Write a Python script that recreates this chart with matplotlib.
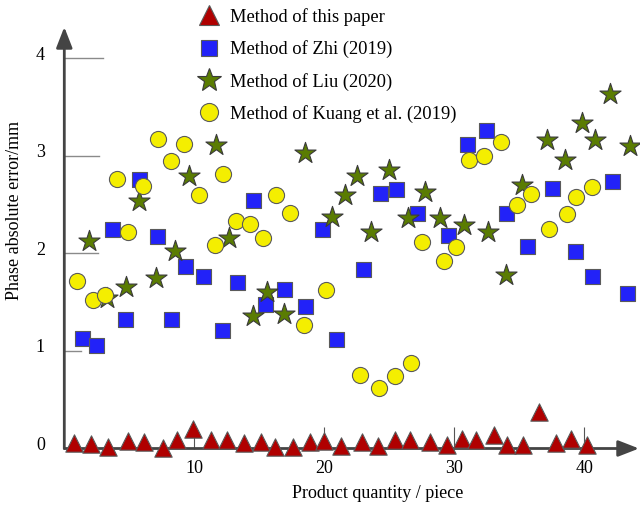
import matplotlib
matplotlib.use("Agg")
import matplotlib.pyplot as plt
from matplotlib.lines import Line2D
from matplotlib.transforms import ScaledTranslation

# ---------------- data ----------------
tri_x = [0.75, 2.05, 3.36, 4.9, 6.13, 7.6, 8.67, 9.9, 11.3, 12.5, 13.8, 15.1, 16.2, 17.6, 18.9, 20.0,
         21.3, 22.9, 24.1, 25.4, 26.6, 28.1, 29.4, 30.6, 31.7, 33.05, 34.05, 35.3, 36.5, 37.8, 39.0, 40.2]
tri_y = [0.06, 0.05, 0.02, 0.08, 0.07, 0.01, 0.09, 0.20, 0.09, 0.09, 0.06, 0.07, 0.02, 0.02, 0.07, 0.08,
         0.03, 0.07, 0.03, 0.09, 0.09, 0.07, 0.04, 0.10, 0.09, 0.14, 0.04, 0.04, 0.37, 0.06, 0.10, 0.04]

sq_x = [1.34, 2.44, 3.64, 4.7, 5.77, 7.15, 8.18, 9.25, 10.65, 12.1, 13.26, 14.5, 15.44, 16.9, 18.5, 19.8,
        20.9, 23.0, 24.3, 25.5, 27.1, 29.5, 30.95, 32.4, 34.0, 35.6, 37.5, 39.3, 40.6, 42.1, 43.26]
sq_y = [1.13, 1.06, 2.25, 1.33, 2.76, 2.18, 1.33, 1.87, 1.77, 1.22, 1.71, 2.55, 1.48, 1.64, 1.46, 2.25,
        1.12, 1.84, 2.62, 2.66, 2.42, 2.19, 3.12, 3.27, 2.42, 2.08, 2.67, 2.03, 1.77, 2.74, 1.60]

star_x = [1.92, 3.26, 4.75, 5.77, 7.05, 8.5, 9.6, 11.65, 12.67, 14.54, 15.57, 16.9, 18.5, 20.6, 21.6, 22.5,
          23.57, 25.0, 26.46, 27.75, 28.9, 30.77, 32.57, 34.0, 35.2, 37.1, 38.5, 39.85, 40.8, 42.0, 43.5]
star_y = [2.13, 1.54, 1.66, 2.54, 1.75, 2.03, 2.79, 3.11, 2.16, 1.36, 1.61, 1.38, 3.03, 2.37, 2.60, 2.79,
          2.22, 2.86, 2.36, 2.63, 2.36, 2.29, 2.22, 1.78, 2.70, 3.16, 2.96, 3.34, 3.16, 3.64, 3.10]

circ_x = [0.95, 2.18, 3.13, 4.03, 4.87, 6.08, 7.23, 8.18, 9.2, 10.36, 11.6, 12.23, 13.18, 14.28, 15.26,
          16.26, 17.36, 18.44, 20.13, 22.75, 24.2, 25.46, 26.7, 27.5, 29.2, 30.1, 31.15, 32.3, 33.57,
          34.8, 35.9, 37.3, 38.7, 39.4, 40.57]
circ_y = [1.72, 1.52, 1.57, 2.76, 2.22, 2.69, 3.17, 2.95, 3.12, 2.60, 2.09, 2.82, 2.33, 2.30, 2.16,
          2.60, 2.42, 1.27, 1.63, 0.75, 0.62, 0.74, 0.88, 2.12, 1.92, 2.07, 2.96, 3.00, 3.14,
          2.50, 2.61, 2.25, 2.41, 2.58, 2.68]

labels = ["Method of this paper", "Method of Zhi (2019)", "Method of Liu (2020)",
          "Method of Kuang et al. (2019)"]
y_ticks = [0, 1, 2, 3, 4]
x_ticks = [10, 20, 30, 40]
x_label = "Product quantity / piece"
y_label = "Phase absolute error/mm"

# ---------------- style ----------------
plt.rcParams['font.family'] = ['Liberation Serif', 'DejaVu Serif']
FS = 13
c_red, c_blue, c_green, c_yel = '#B00000', '#2222F8', '#5A7C02', '#F4EE00'
edge = '#5a5a5a'

fig = plt.figure(figsize=(6.4, 5.07), dpi=100)
W, H = 640, 507
x0px, x1px = 64.3, 639.0
y0px, y1px = 448.5, 27.0
ax = fig.add_axes([x0px / W, 1 - y0px / H, (x1px - x0px) / W, (y0px - y1px) / H])
ax.set_xlim(0, (x1px - x0px) / 13.0)
ax.set_ylim(0, (y0px - y1px) / 97.5)
for s in ax.spines.values():
    s.set_visible(False)

# y tick lines (drawn inside the plot)
tick_len = [0, 1.25, 2.6, 2.7, 3.0]
for v, L in zip(y_ticks, tick_len):
    if L > 0:
        ax.plot([0, L], [v, v], color='#8a8a8a', lw=1.0, zorder=1)

ax.set_yticks(y_ticks)
ax.set_yticklabels([str(v) for v in y_ticks])
ax.tick_params(axis='y', length=0, pad=14, labelsize=FS)
for lab in ax.get_yticklabels():
    lab.set_transform(lab.get_transform() + ScaledTranslation(0, 5 / 100, fig.dpi_scale_trans))

ax.set_xticks(x_ticks)
ax.set_xticklabels([str(v) for v in x_ticks])
ax.tick_params(axis='x', direction='in', length=16, width=0.8, color='#555555', pad=8, labelsize=FS)

# axes with arrows
arrow_kw = dict(arrowstyle='-|>,head_length=0.9,head_width=0.35', color='#444444', lw=2.0,
                shrinkA=0, shrinkB=0, mutation_scale=14)
ax.annotate('', xy=(0, 1.0), xytext=(0, 0), xycoords='axes fraction', textcoords='axes fraction',
            arrowprops=arrow_kw, annotation_clip=False, zorder=2)
ax.annotate('', xy=(1.0, 0), xytext=(0, 0), xycoords='axes fraction', textcoords='axes fraction',
            arrowprops=arrow_kw, annotation_clip=False, zorder=2)

# markers
ax.scatter(sq_x, sq_y, marker='s', s=10.8 ** 2, color=c_blue, edgecolors=edge, linewidths=0.8,
           zorder=3, clip_on=False)
ax.scatter(star_x, star_y, marker='*', s=16 ** 2, color=c_green, edgecolors='#3a3a3a', linewidths=0.8,
           zorder=4, clip_on=False)
ax.scatter(circ_x, circ_y, marker='o', s=11.6 ** 2, color=c_yel, edgecolors=edge, linewidths=0.8,
           zorder=5, clip_on=False)
ax.scatter(tri_x, tri_y, marker='^', s=12.5 ** 2, color=c_red, edgecolors=edge, linewidths=0.8,
           zorder=6, clip_on=False)

# labels
ax.set_xlabel(x_label, fontsize=FS, va='center')
ax.xaxis.set_label_coords((378 - x0px) / (x1px - x0px), (y0px - 494) / (y0px - y1px))
ax.set_ylabel(y_label, fontsize=FS, va='center', ha='center')
ax.yaxis.set_label_coords((15 - x0px) / (x1px - x0px), (y0px - 210) / (y0px - y1px))

# legend
handles = [
    Line2D([], [], ls='none', marker='^', ms=15, color=c_red, mec=edge, mew=0.8),
    Line2D([], [], ls='none', marker='s', ms=12, color=c_blue, mec=edge, mew=0.8),
    Line2D([], [], ls='none', marker='*', ms=18, color=c_green, mec='#3a3a3a', mew=0.8),
    Line2D([], [], ls='none', marker='o', ms=13, color=c_yel, mec=edge, mew=0.8),
]
fig.legend(handles, labels, loc='upper left', bbox_to_anchor=(195 / W, 1 - 8 / H),
           bbox_transform=fig.transFigure, frameon=False, fontsize=FS + 0.3, borderpad=0,
           borderaxespad=0, handlelength=1.5, handletextpad=0.4, labelspacing=0.78)

fig.savefig('out.png', dpi=100)
